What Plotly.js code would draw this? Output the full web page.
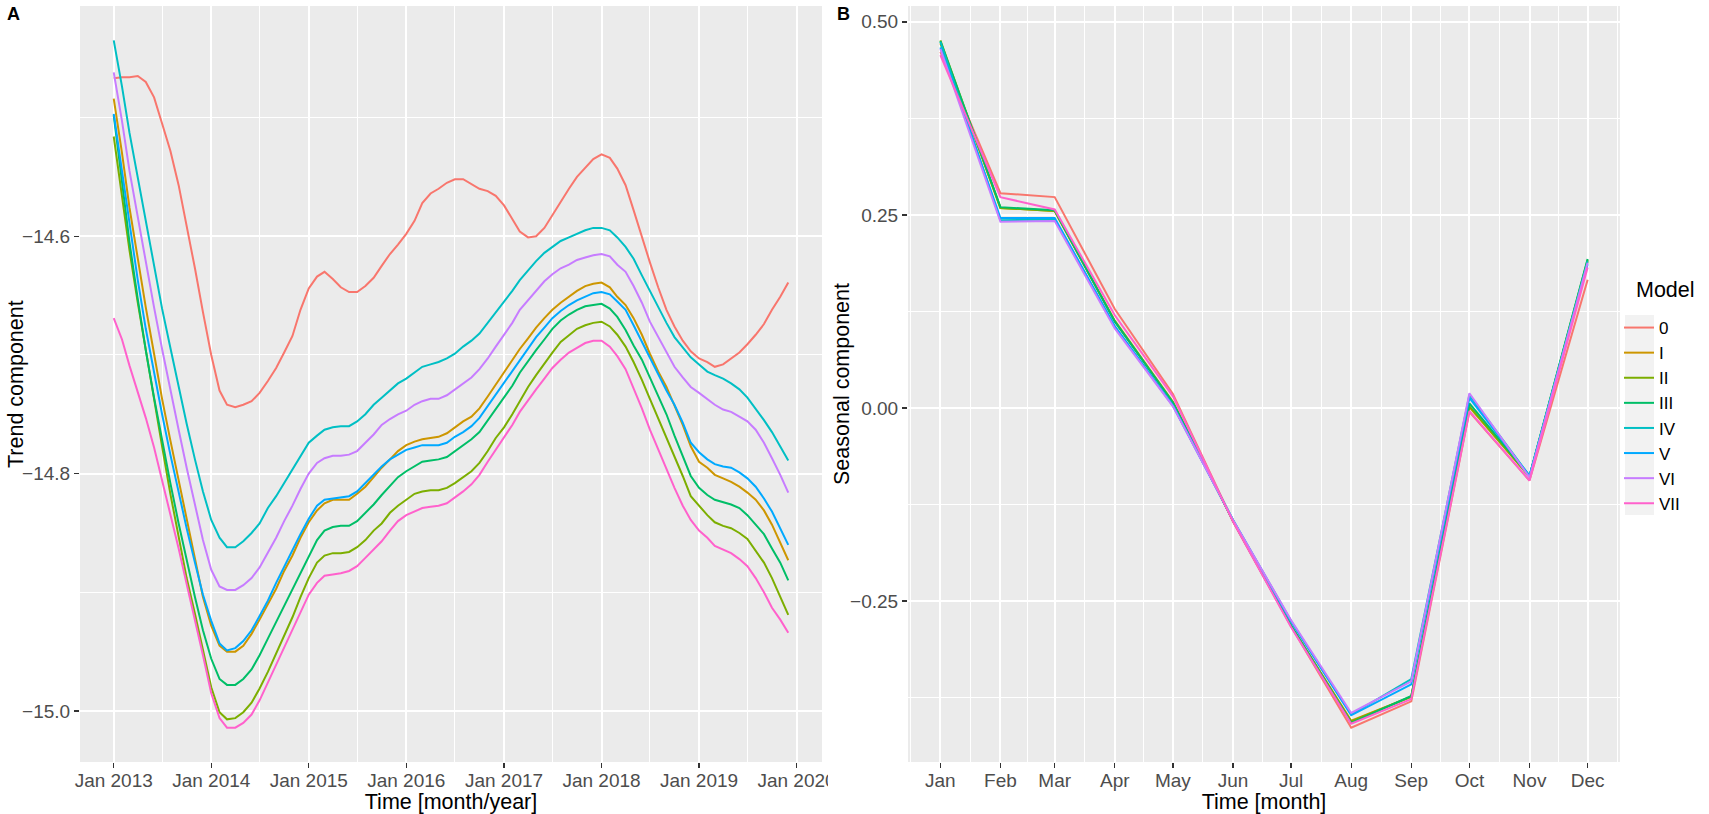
<!DOCTYPE html>
<html><head><meta charset="utf-8">
<script src="https://cdn.plot.ly/plotly-3.0.1.min.js"></script>
<style>html,body{margin:0;padding:0;background:#fff;}#chart{width:1709px;height:814px;}</style>
</head><body><div id="chart"></div>
<script>
// ---------- data ----------
const models = ['0','I','II','III','IV','V','VI','VII'];
const modelColors = ['#F8766D','#CD9600','#7CAE00','#00BE67','#00BFC4','#00A9FF','#C77CFF','#FF61CC'];
const legendTitle = 'Model';
const yTitleA = 'Trend component', yTitleB = 'Seasonal component';
const xTitleA = 'Time [month/year]', xTitleB = 'Time [month]';

// Panel A: trend component, monthly Jan 2013 .. Dec 2019
const trendStartYear = 2013;
const trend0 = [-14.467,-14.466,-14.466,-14.465,-14.470,-14.483,-14.505,-14.528,-14.557,-14.591,-14.627,-14.664,
-14.700,-14.730,-14.742,-14.744,-14.742,-14.739,-14.732,-14.722,-14.711,-14.698,-14.684,-14.662,
-14.644,-14.634,-14.630,-14.636,-14.643,-14.647,-14.647,-14.642,-14.635,-14.625,-14.615,-14.607,
-14.598,-14.587,-14.572,-14.564,-14.560,-14.555,-14.552,-14.552,-14.556,-14.560,-14.562,-14.566,
-14.574,-14.585,-14.596,-14.601,-14.600,-14.593,-14.582,-14.571,-14.560,-14.550,-14.542,-14.535,
-14.531,-14.534,-14.543,-14.557,-14.578,-14.601,-14.622,-14.643,-14.662,-14.676,-14.688,-14.697,
-14.703,-14.706,-14.710,-14.708,-14.703,-14.698,-14.691,-14.683,-14.674,-14.662,-14.651,-14.639];
const trendI = [-14.484,-14.530,-14.576,-14.619,-14.660,-14.699,-14.737,-14.772,-14.806,-14.840,-14.873,-14.904,
-14.928,-14.945,-14.950,-14.950,-14.945,-14.935,-14.923,-14.910,-14.897,-14.882,-14.869,-14.854,
-14.841,-14.831,-14.825,-14.822,-14.822,-14.822,-14.817,-14.811,-14.803,-14.795,-14.788,-14.781,
-14.776,-14.773,-14.771,-14.770,-14.769,-14.766,-14.761,-14.756,-14.752,-14.745,-14.735,-14.725,
-14.715,-14.705,-14.695,-14.686,-14.677,-14.669,-14.662,-14.656,-14.651,-14.646,-14.642,-14.640,
-14.639,-14.643,-14.651,-14.658,-14.669,-14.683,-14.699,-14.714,-14.727,-14.743,-14.759,-14.777,
-14.790,-14.795,-14.801,-14.804,-14.807,-14.811,-14.816,-14.822,-14.831,-14.843,-14.859,-14.873];
const trendII = [-14.516,-14.566,-14.612,-14.656,-14.697,-14.737,-14.777,-14.817,-14.854,-14.888,-14.918,-14.949,
-14.980,-15.001,-15.007,-15.006,-15.001,-14.993,-14.981,-14.967,-14.952,-14.937,-14.921,-14.904,
-14.888,-14.875,-14.869,-14.867,-14.867,-14.866,-14.862,-14.856,-14.848,-14.842,-14.833,-14.827,
-14.822,-14.817,-14.815,-14.814,-14.814,-14.812,-14.808,-14.803,-14.798,-14.791,-14.781,-14.770,
-14.761,-14.750,-14.739,-14.727,-14.717,-14.707,-14.698,-14.689,-14.683,-14.678,-14.675,-14.673,
-14.672,-14.676,-14.683,-14.693,-14.706,-14.721,-14.737,-14.753,-14.769,-14.785,-14.802,-14.819,
-14.827,-14.835,-14.841,-14.844,-14.846,-14.850,-14.855,-14.865,-14.875,-14.888,-14.903,-14.919];
const trendIII = [-14.498,-14.553,-14.605,-14.653,-14.696,-14.736,-14.773,-14.808,-14.842,-14.874,-14.904,-14.932,
-14.956,-14.973,-14.978,-14.978,-14.973,-14.965,-14.953,-14.939,-14.925,-14.911,-14.897,-14.883,
-14.869,-14.856,-14.848,-14.845,-14.844,-14.844,-14.840,-14.833,-14.826,-14.818,-14.810,-14.803,
-14.798,-14.794,-14.790,-14.789,-14.788,-14.786,-14.781,-14.776,-14.771,-14.765,-14.755,-14.745,
-14.736,-14.726,-14.715,-14.705,-14.696,-14.687,-14.678,-14.671,-14.666,-14.662,-14.659,-14.658,
-14.657,-14.661,-14.668,-14.679,-14.692,-14.704,-14.719,-14.735,-14.750,-14.768,-14.785,-14.802,
-14.812,-14.818,-14.822,-14.824,-14.826,-14.829,-14.835,-14.843,-14.851,-14.863,-14.875,-14.890];
const trendIV = [-14.435,-14.474,-14.513,-14.550,-14.588,-14.625,-14.661,-14.694,-14.727,-14.758,-14.788,-14.815,
-14.839,-14.854,-14.862,-14.862,-14.857,-14.850,-14.842,-14.829,-14.819,-14.808,-14.797,-14.785,
-14.774,-14.768,-14.763,-14.761,-14.760,-14.760,-14.756,-14.750,-14.742,-14.736,-14.730,-14.724,
-14.720,-14.715,-14.710,-14.708,-14.706,-14.703,-14.699,-14.693,-14.688,-14.682,-14.673,-14.665,
-14.656,-14.646,-14.637,-14.629,-14.621,-14.614,-14.609,-14.604,-14.601,-14.598,-14.595,-14.593,
-14.593,-14.595,-14.601,-14.609,-14.619,-14.633,-14.646,-14.660,-14.673,-14.685,-14.694,-14.702,
-14.708,-14.714,-14.717,-14.720,-14.724,-14.729,-14.736,-14.745,-14.755,-14.765,-14.777,-14.789];
const trendV = [-14.497,-14.545,-14.592,-14.637,-14.678,-14.715,-14.750,-14.784,-14.816,-14.846,-14.875,-14.902,
-14.924,-14.943,-14.949,-14.947,-14.941,-14.932,-14.920,-14.907,-14.892,-14.878,-14.864,-14.851,
-14.838,-14.827,-14.822,-14.821,-14.820,-14.819,-14.815,-14.808,-14.801,-14.794,-14.788,-14.784,
-14.780,-14.778,-14.776,-14.776,-14.776,-14.774,-14.769,-14.765,-14.760,-14.753,-14.743,-14.733,
-14.723,-14.714,-14.704,-14.694,-14.685,-14.677,-14.669,-14.663,-14.658,-14.654,-14.651,-14.648,
-14.647,-14.649,-14.655,-14.662,-14.675,-14.689,-14.703,-14.717,-14.730,-14.742,-14.757,-14.774,
-14.782,-14.788,-14.792,-14.794,-14.795,-14.799,-14.804,-14.811,-14.821,-14.832,-14.846,-14.860];
const trendVI = [-14.462,-14.503,-14.545,-14.584,-14.623,-14.660,-14.695,-14.730,-14.763,-14.795,-14.826,-14.856,
-14.881,-14.895,-14.898,-14.898,-14.894,-14.888,-14.879,-14.866,-14.854,-14.840,-14.827,-14.813,
-14.800,-14.791,-14.787,-14.785,-14.785,-14.784,-14.781,-14.774,-14.767,-14.759,-14.754,-14.750,
-14.747,-14.742,-14.739,-14.737,-14.737,-14.734,-14.729,-14.724,-14.719,-14.712,-14.703,-14.693,
-14.683,-14.673,-14.662,-14.654,-14.646,-14.638,-14.632,-14.627,-14.624,-14.620,-14.618,-14.616,
-14.615,-14.617,-14.624,-14.630,-14.642,-14.656,-14.672,-14.685,-14.698,-14.710,-14.719,-14.727,
-14.732,-14.737,-14.742,-14.746,-14.748,-14.752,-14.756,-14.763,-14.774,-14.787,-14.801,-14.816];
const trendVII = [-14.669,-14.687,-14.709,-14.731,-14.753,-14.778,-14.805,-14.833,-14.863,-14.893,-14.923,-14.953,
-14.985,-15.006,-15.014,-15.014,-15.010,-15.003,-14.991,-14.976,-14.961,-14.946,-14.931,-14.916,
-14.902,-14.892,-14.886,-14.885,-14.884,-14.882,-14.878,-14.871,-14.864,-14.857,-14.848,-14.840,
-14.835,-14.832,-14.829,-14.828,-14.827,-14.825,-14.820,-14.815,-14.809,-14.801,-14.790,-14.780,
-14.770,-14.759,-14.748,-14.738,-14.729,-14.720,-14.711,-14.704,-14.698,-14.694,-14.690,-14.688,
-14.688,-14.693,-14.701,-14.712,-14.728,-14.745,-14.763,-14.780,-14.797,-14.812,-14.827,-14.839,
-14.848,-14.854,-14.861,-14.864,-14.867,-14.872,-14.878,-14.888,-14.900,-14.913,-14.923,-14.934];

// Panel B: seasonal component per month
const seasonMonths = ['2013-01-01','2013-02-01','2013-03-01','2013-04-01','2013-05-01','2013-06-01',
                      '2013-07-01','2013-08-01','2013-09-01','2013-10-01','2013-11-01','2013-12-01'];
const season0   = [0.461, 0.278, 0.273, 0.128, 0.018, -0.147, -0.283, -0.414, -0.380, -0.005, -0.094, 0.166];
const seasonI   = [0.472, 0.259, 0.255, 0.113, 0.008, -0.146, -0.282, -0.405, -0.374,  0.001, -0.089, 0.190];
const seasonII  = [0.476, 0.259, 0.255, 0.112, 0.007, -0.146, -0.282, -0.406, -0.374,  0.002, -0.089, 0.192];
const seasonIII = [0.475, 0.260, 0.256, 0.112, 0.007, -0.146, -0.282, -0.408, -0.373,  0.006, -0.088, 0.193];
const seasonIV  = [0.474, 0.243, 0.244, 0.105, 0.003, -0.145, -0.276, -0.397, -0.351,  0.017, -0.088, 0.190];
const seasonV   = [0.467, 0.246, 0.246, 0.106, 0.003, -0.145, -0.277, -0.398, -0.358,  0.013, -0.088, 0.186];
const seasonVI  = [0.465, 0.241, 0.242, 0.103, 0.002, -0.145, -0.275, -0.395, -0.354,  0.019, -0.090, 0.188];
const seasonVII = [0.457, 0.273, 0.257, 0.120, 0.015, -0.147, -0.284, -0.409, -0.377, -0.004, -0.094, 0.182];

const trendSeries  = [trend0, trendI, trendII, trendIII, trendIV, trendV, trendVI, trendVII];
const seasonSeries = [season0, seasonI, seasonII, seasonIII, seasonIV, seasonV, seasonVI, seasonVII];

// ---------- helpers ----------
const trendMonths = trend0.map((_, i) => {
  const y = trendStartYear + Math.floor(i / 12), m = (i % 12) + 1;
  return y + '-' + String(m).padStart(2, '0') + '-01';
});
const ms = s => Date.parse(s + 'T00:00:00Z');
function expandDate(arr) {
  const a = ms(arr[0]), b = ms(arr[arr.length - 1]), d = (b - a) * 0.05;
  return [a - d, b + d];
}
function expandNum(series) {
  const all = [].concat(...series);
  const lo = Math.min(...all), hi = Math.max(...all), d = (hi - lo) * 0.05;
  return [lo - d, hi + d];
}
const toStr = t => new Date(t).toISOString().slice(0, 19).replace('T', ' ');
// minor grid lines of panel B at midpoints between month breaks
const bBreaks = ['2012-12-01'].concat(seasonMonths, ['2014-01-01']);
const bMinor = [];
for (let i = 0; i < bBreaks.length - 1; i++) bMinor.push(toStr((ms(bBreaks[i]) + ms(bBreaks[i + 1])) / 2));

// ---------- traces ----------
const traces = [];
models.forEach((name, k) => {
  traces.push({type: 'scatter', mode: 'lines', name: name, x: trendMonths, y: trendSeries[k],
    xaxis: 'x', yaxis: 'y', line: {color: modelColors[k], width: 2}, legendgroup: name});
});
models.forEach((name, k) => {
  traces.push({type: 'scatter', mode: 'lines', name: name, x: seasonMonths, y: seasonSeries[k],
    xaxis: 'x2', yaxis: 'y2', line: {color: modelColors[k], width: 2}, legendgroup: name, showlegend: false});
});

// ---------- layout ----------
const FONT = 'Liberation Sans, Arial, Helvetica, sans-serif';
const W = 1709, H = 814, ML = 80, MR = 89, MT = 6, MB = 52;
const PW = W - ML - MR, PH = H - MT - MB;
const px = x => (x - ML) / PW, py = y => (H - MB - y) / PH;
const tickFont = {family: FONT, size: 19, color: '#4D4D4D'};
const titleFont = {family: FONT, size: 21.5, color: '#000'};
const common = {showgrid: true, gridcolor: '#FFFFFF', gridwidth: 2, zeroline: false, showline: false,
  ticks: 'outside', ticklen: 5, tickwidth: 1.4, tickcolor: '#333333', tickfont: tickFont, fixedrange: true};
const minorStyle = {showgrid: true, gridcolor: '#FFFFFF', gridwidth: 1, ticks: ''};

const layout = {
  width: W, height: H,
  margin: {l: ML, r: MR, t: MT, b: MB},
  paper_bgcolor: '#FFFFFF', plot_bgcolor: '#EBEBEB',
  font: {family: FONT, color: '#000'},
  showlegend: true,
  xaxis: Object.assign({}, common, {domain: [0, px(822)], anchor: 'y', type: 'date',
    range: expandDate(trendMonths), tick0: '2013-01-01', dtick: 'M12', tickformat: '%b %Y',
    ticklabelstandoff: -4,
    minor: Object.assign({tick0: '2013-01-01', dtick: 'M6'}, minorStyle),
    title: {text: xTitleA, font: titleFont, standoff: 4.5}}),
  yaxis: Object.assign({}, common, {domain: [0, 1], anchor: 'x',
    range: expandNum(trendSeries), tick0: -15, dtick: 0.2, tickformat: '.1f',
    minor: Object.assign({tick0: -15, dtick: 0.1}, minorStyle)}),
  xaxis2: Object.assign({}, common, {domain: [px(908), 1], anchor: 'y2', type: 'date',
    range: expandDate(seasonMonths), tick0: '2013-01-01', dtick: 'M1', tickformat: '%b',
    ticklabelstandoff: -4,
    minor: Object.assign({tickmode: 'array', tickvals: bMinor}, minorStyle),
    title: {text: xTitleB, font: titleFont, standoff: 4.5}}),
  yaxis2: Object.assign({}, common, {domain: [0, 1], anchor: 'x2',
    range: expandNum(seasonSeries), tick0: 0, dtick: 0.25, tickformat: '.2f',
    minor: Object.assign({tick0: 0, dtick: 0.125}, minorStyle)}),
  legend: {x: px(1619), y: py(310), xanchor: 'left', yanchor: 'top',
    bgcolor: 'rgba(255,255,255,0)', borderwidth: 0,
    font: {family: FONT, size: 17, color: '#000'},
    itemwidth: 30, tracegroupgap: 0},
  annotations: [
    {text: '<b>A</b>', xref: 'paper', yref: 'paper', x: px(13), y: py(14), showarrow: false,
     xanchor: 'center', yanchor: 'middle', font: {family: FONT, size: 18, color: '#000'}},
    {text: '<b>B</b>', xref: 'paper', yref: 'paper', x: px(843), y: py(14), showarrow: false,
     xanchor: 'center', yanchor: 'middle', font: {family: FONT, size: 18, color: '#000'}},
    {text: yTitleA, xref: 'paper', yref: 'paper', x: px(16), y: py(384), showarrow: false, textangle: -90,
     xanchor: 'center', yanchor: 'middle', font: titleFont},
    {text: yTitleB, xref: 'paper', yref: 'paper', x: px(842), y: py(384), showarrow: false, textangle: -90,
     xanchor: 'center', yanchor: 'middle', font: titleFont},
    {text: legendTitle, xref: 'paper', yref: 'paper', x: px(1634), y: py(290), showarrow: false,
     xanchor: 'left', yanchor: 'middle', font: {family: FONT, size: 21.5, color: '#000'}}
  ],
  shapes: [
    // clip the last date label as in the reference
    {type: 'rect', xref: 'paper', yref: 'paper', x0: px(828), x1: px(905), y0: py(814), y1: py(766),
     fillcolor: '#FFFFFF', line: {width: 0}, layer: 'above'},
    // grey legend key column
    {type: 'rect', xref: 'paper', yref: 'paper', x0: px(1625), x1: px(1654), y0: py(515), y1: py(315),
     fillcolor: '#F2F2F2', line: {width: 0}, layer: 'below'}
  ]
};

Plotly.newPlot('chart', traces, layout, {displayModeBar: false, staticPlot: true});
</script>
</body></html>
